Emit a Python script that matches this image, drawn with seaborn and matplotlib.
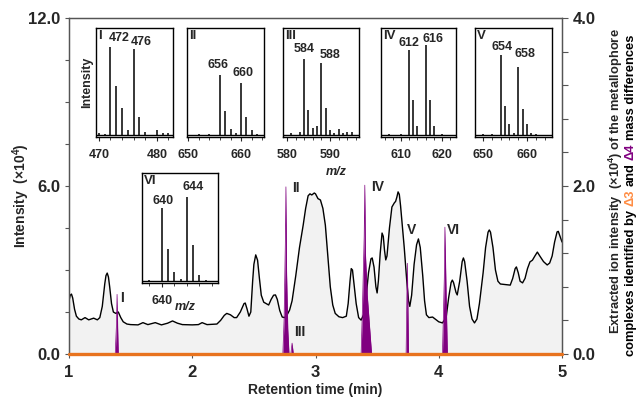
import matplotlib
matplotlib.use('Agg')
import matplotlib.pyplot as plt
import matplotlib.ticker as mticker
import seaborn as sns
import numpy as np

# ---- chromatogram (total ion intensity, x10^4) ----
rt = [1.00, 1.01, 1.02, 1.03, 1.045, 1.06, 1.08, 1.10, 1.13, 1.16, 1.20, 1.23, 1.25, 1.27,
      1.29, 1.30, 1.31, 1.32, 1.33, 1.345, 1.36, 1.38, 1.40, 1.42, 1.44, 1.47, 1.50, 1.56,
      1.60, 1.64, 1.70, 1.75, 1.80, 1.84, 1.88, 1.92, 2.00, 2.05, 2.08, 2.12, 2.20, 2.23,
      2.26, 2.28, 2.31, 2.34, 2.36, 2.39, 2.42, 2.43, 2.445, 2.46, 2.475, 2.49, 2.50, 2.515,
      2.53, 2.545, 2.56, 2.58, 2.60, 2.62, 2.64, 2.66, 2.675, 2.69, 2.71, 2.73, 2.75, 2.77,
      2.79, 2.81, 2.84, 2.87, 2.90, 2.92, 2.94, 2.955, 2.97, 2.99, 3.00, 3.02, 3.04, 3.06,
      3.08, 3.10, 3.12, 3.14, 3.16, 3.19, 3.22, 3.25, 3.265, 3.28, 3.29, 3.30, 3.31, 3.33,
      3.35, 3.37, 3.39, 3.41, 3.43, 3.45, 3.46, 3.475, 3.49, 3.50, 3.51, 3.525, 3.54, 3.55,
      3.56, 3.57, 3.58, 3.60, 3.62, 3.64, 3.65, 3.66, 3.67, 3.68, 3.69, 3.70, 3.72, 3.74,
      3.755, 3.765, 3.78, 3.80, 3.82, 3.835, 3.85, 3.87, 3.885, 3.90, 3.92, 3.95, 3.97, 4.00,
      4.03, 4.06, 4.08, 4.10, 4.11, 4.12, 4.14, 4.15, 4.17, 4.19, 4.20, 4.21, 4.23, 4.25,
      4.27, 4.29, 4.31, 4.33, 4.36, 4.38, 4.40, 4.41, 4.42, 4.44, 4.46, 4.48, 4.50, 4.54,
      4.58, 4.60, 4.62, 4.63, 4.645, 4.66, 4.68, 4.70, 4.72, 4.74, 4.76, 4.78, 4.80, 4.82,
      4.85, 4.88, 4.90, 4.92, 4.94, 4.96, 4.97, 4.98, 5.00]
tic = [1.90, 2.10, 2.14, 2.00, 1.60, 1.35, 1.25, 1.22, 1.30, 1.22, 1.28, 1.22, 1.30, 1.70,
       2.50, 2.80, 2.89, 2.75, 2.40, 1.80, 1.50, 1.45, 1.50, 1.30, 1.15, 1.07, 1.05, 1.04,
       1.12, 1.05, 1.12, 1.04, 1.10, 1.18, 1.10, 1.05, 1.04, 1.05, 1.12, 1.05, 1.07, 1.20,
       1.38, 1.45, 1.40, 1.30, 1.30, 1.50, 1.80, 1.82, 1.60, 1.35, 1.50, 2.60, 3.20, 3.54,
       3.35, 2.70, 2.10, 1.85, 1.80, 1.75, 1.95, 2.10, 2.11, 1.95, 1.55, 1.32, 1.30, 1.40,
       1.57, 1.90, 2.80, 3.80, 4.60, 5.20, 5.65, 5.72, 5.68, 5.75, 5.72, 5.55, 5.50, 5.20,
       4.60, 3.50, 2.40, 1.75, 1.45, 1.33, 1.30, 1.35, 1.80, 2.60, 3.05, 3.00, 2.60, 1.80,
       1.30, 1.21, 1.40, 2.00, 2.90, 3.40, 3.43, 3.10, 2.40, 2.18, 2.60, 3.60, 4.32, 4.20,
       3.70, 3.36, 3.50, 4.50, 5.25, 5.40, 5.45, 5.60, 5.79, 5.70, 5.30, 4.80, 3.80, 2.64,
       1.90, 1.70, 2.10, 3.20, 3.90, 4.11, 3.80, 2.80, 1.90, 1.40, 1.30, 1.32, 1.25, 1.15,
       1.11, 1.30, 2.00, 2.55, 2.64, 2.55, 2.20, 2.11, 2.60, 3.30, 3.43, 3.30, 2.60, 1.70,
       1.25, 1.11, 1.25, 1.80, 2.90, 3.80, 4.35, 4.43, 4.35, 3.80, 3.00, 2.60, 2.50, 2.48,
       2.46, 2.70, 3.05, 3.11, 2.90, 2.60, 2.54, 2.70, 3.05, 3.29, 3.35, 3.50, 3.64, 3.50,
       3.30, 3.18, 3.25, 3.50, 4.00, 4.36, 4.38, 4.25, 4.00]

# ---- extracted ion chromatograms (x10^4) ----
xic_rt = [1.00, 1.375, 1.385, 1.39, 1.395, 1.40,
          2.735, 2.745, 2.755, 2.76, 2.765, 2.775, 2.785,
          2.80, 2.81, 2.82,
          3.37, 3.38, 3.395, 3.40, 3.405, 3.42, 3.44, 3.455,
          3.735, 3.745, 3.755,
          4.03, 4.045, 4.05, 4.06, 4.07, 5.00]
xic_d4 = [0, 0, 0.35, 0.71, 0.30, 0,
          0, 0.40, 1.30, 1.99, 1.00, 0.30, 0,
          0, 0.13, 0,
          0, 0.50, 1.40, 2.01, 1.20, 0.70, 0.30, 0,
          0, 1.08, 0,
          0, 0.90, 1.51, 0.70, 0, 0]
xic_d3_rt = [1.0, 5.0]
xic_d3 = [0.0, 0.0]

roman = ['I', 'II', 'III', 'IV', 'V', 'VI']

# ---- mass spectra (relative intensity) ----
ms_I_mz = [470, 471, 472, 473, 474, 475, 476, 477, 478, 480, 481, 482]
ms_I_int = [0.04, 0.03, 0.83, 0.47, 0.27, 0.06, 0.81, 0.18, 0.05, 0.06, 0.04, 0.04]
ms_II_mz = [652, 654, 656, 657, 658, 659, 660, 661, 662, 663]
ms_II_int = [0.03, 0.03, 0.57, 0.24, 0.07, 0.04, 0.50, 0.18, 0.06, 0.03]
ms_III_mz = [581, 583, 584, 585, 586, 587, 588, 589, 590, 591, 592, 593, 594, 595]
ms_III_int = [0.04, 0.05, 0.72, 0.25, 0.08, 0.10, 0.68, 0.27, 0.06, 0.04, 0.07, 0.04, 0.05, 0.05]
ms_IV_mz = [607, 610, 612, 613, 614, 616, 617, 618, 620]
ms_IV_int = [0.03, 0.03, 0.80, 0.34, 0.10, 0.84, 0.34, 0.10, 0.03]
ms_V_mz = [650, 652, 654, 655, 656, 657, 658, 659, 660, 661, 662]
ms_V_int = [0.03, 0.03, 0.75, 0.28, 0.12, 0.04, 0.64, 0.26, 0.12, 0.04, 0.03]
ms_VI_mz = [638, 640, 641, 642, 643, 644, 645, 646, 647]
ms_VI_int = [0.03, 0.68, 0.31, 0.10, 0.04, 0.78, 0.35, 0.07, 0.03]

ms_I_peaks = [472, 476]
ms_II_peaks = [656, 660]
ms_III_peaks = [584, 588]
ms_IV_peaks = [612, 616]
ms_V_peaks = [654, 658]
ms_VI_peaks = [640, 644]

W, H = 643, 398
purple = '#800080'
orange = '#E8731E'

sns.set_style('ticks')
plt.rcParams['font.family'] = ['Liberation Sans', 'DejaVu Sans']
plt.rcParams['font.weight'] = 'bold'
plt.rcParams['mathtext.fontset'] = 'custom'
plt.rcParams['mathtext.rm'] = 'Liberation Sans:bold'
plt.rcParams['mathtext.bf'] = 'Liberation Sans:bold'
plt.rcParams['mathtext.default'] = 'bf'


def px_rect(x0, y0, x1, y1):
    return [x0 / W, 1 - y1 / H, (x1 - x0) / W, (y1 - y0) / H]


fig = plt.figure(figsize=(W / 100, H / 100), dpi=100)
ax = fig.add_axes(px_rect(69, 18, 562, 354))
ax2 = ax.twinx()

# chromatogram
ax.fill_between(rt, tic, color='#F2F2F2', lw=0)
sns.lineplot(x=rt, y=tic, ax=ax, color='black', lw=1.0, errorbar=None)
ax.set_xlim(1, 5)
ax.set_ylim(0, 12)
yt = np.arange(0, 12.01, 1.5)
ax.set_yticks(yt)
ax.set_yticklabels(['0.0' if v == 0 else '6.0' if v == 6 else '12.0' if v == 12 else '' for v in yt])
ax.set_xticks([1, 2, 3, 4, 5])
ax.tick_params(axis='both', labelsize=12, length=3, color='#555555', width=0.8)
ax.tick_params(axis='x', pad=5)
for s in ax.spines.values():
    s.set_color('#555555')
    s.set_linewidth(0.9)
ax.set_xlabel('Retention time (min)', fontsize=10, fontweight='bold')
ax.xaxis.set_label_coords(0.5, -0.085)
ax.set_ylabel('Intensity  (×10$^{4}$)', fontsize=10, fontweight='bold')
ax.yaxis.set_label_coords(-0.075, 0.47)

# extracted ion traces
ax2.fill_between(xic_rt, xic_d4, color=purple, lw=0)
sns.lineplot(x=xic_rt, y=xic_d4, ax=ax2, color=purple, lw=0.5, errorbar=None)
sns.lineplot(x=xic_d3_rt, y=xic_d3, ax=ax2, color=orange, lw=2.4, errorbar=None, clip_on=False,
             zorder=5)
ax2.set_ylim(0, 4)
yt2 = np.arange(0, 4.01, 0.4)
ax2.set_yticks(yt2)
ax2.set_yticklabels(['0.0' if abs(v) < 1e-6 else '2.0' if abs(v - 2) < 1e-6 else
                     '4.0' if abs(v - 4) < 1e-6 else '' for v in yt2])
ax2.tick_params(axis='y', labelsize=12, length=4, color='#555555', width=0.8)
for s in ax2.spines.values():
    s.set_color('#555555')
    s.set_linewidth(0.9)
ax2.set_ylabel('')

label_pos = [(1.43, 0.67), (2.84, 1.98), (2.87, 0.26), (3.50, 1.99), (3.78, 1.48), (4.12, 1.48)]
for name, (x, y) in zip(roman, label_pos):
    ax2.text(x, y, name, fontsize=10, fontweight='bold', ha='center', va='center')

# inset mass spectra
insets = [
    ('I', ms_I_mz, ms_I_int, ms_I_peaks, (96, 28, 173, 137), (469.5, 482.8), [470, 480],
     [(473.5, 0.91), (477.4, 0.87)]),
    ('II', ms_II_mz, ms_II_int, ms_II_peaks, (187, 28, 264, 137), (649.8, 664.3), [650, 660],
     [(655.6, 0.66), (660.3, 0.59)]),
    ('III', ms_III_mz, ms_III_int, ms_III_peaks, (283, 28, 359, 137), (579.1, 596.7), [580, 590],
     [(584.0, 0.81), (589.9, 0.75)]),
    ('IV', ms_IV_mz, ms_IV_int, ms_IV_peaks, (381, 28, 456, 137), (605.1, 623.4), [610, 620],
     [(612.0, 0.86), (617.8, 0.90)]),
    ('V', ms_V_mz, ms_V_int, ms_V_peaks, (475, 28, 552, 137), (648.2, 665.7), [650, 660],
     [(654.3, 0.83), (659.5, 0.76)]),
    ('VI', ms_VI_mz, ms_VI_int, ms_VI_peaks, (142, 173, 218, 283), (636.8, 649.0), [640],
     [(640.2, 0.75), (645.0, 0.87)]),
]
for name, mz, inten, peaks, rect, xlim, ticks, lab in insets:
    ia = fig.add_axes(px_rect(*rect))
    ia.set_facecolor('white')
    ia.vlines(mz, 0.015, inten, color='black', lw=1.1)
    ia.axhline(0.015, color='black', lw=1.0)
    ia.set_xlim(*xlim)
    ia.set_ylim(0, 1)
    ia.set_yticks([])
    ia.set_xticks(ticks)
    ia.xaxis.set_minor_locator(mticker.MultipleLocator(2))
    ia.tick_params(axis='x', which='major', length=3, labelsize=9, pad=6)
    ia.tick_params(axis='x', which='minor', length=2)
    for s in ia.spines.values():
        s.set_color('black')
        s.set_linewidth(1.0)
    ia.text(0.03, 0.985, name, transform=ia.transAxes, fontsize=9.5, fontweight='bold',
            ha='left', va='top')
    for pk, (lx, ly) in zip(peaks, lab):
        ia.text(lx, ly, str(pk), fontsize=9, fontweight='bold', ha='center', va='center',
                transform=ia.get_xaxis_transform())
    if name == 'I':
        ia.set_ylabel('Intensity', fontsize=9, fontweight='bold', labelpad=2)
    if name == 'VI':
        ia.text(185 / W, 1 - 307 / H, 'm/z', transform=fig.transFigure, fontsize=9,
                fontstyle='italic', fontweight='bold', ha='center', va='center')

fig.text(336 / W, 1 - 172 / H, 'm/z', fontsize=9, fontstyle='italic', fontweight='bold',
         ha='center', va='center')

# right axis title, two lines, with coloured delta labels
fs_r = 9.3
fig.text(620 / W, 1 - 181 / H, 'Extracted ion intensity  (×10$^{4}$) of the metallophore',
         rotation=90, rotation_mode='anchor', ha='center', va='baseline', fontsize=fs_r,
         fontweight='bold')

pieces = [('complexes identified by', 'black'), ('Δ3', '#FF8C42'), ('and', 'black'),
          ('Δ4', purple), ('mass differences', 'black')]
renderer = fig.canvas.get_renderer()
objs = []
for s, c in pieces:
    objs.append(fig.text(634 / W, 0, s, rotation=90, rotation_mode='anchor', ha='left',
                         va='baseline', fontsize=fs_r, fontweight='bold', color=c))
probe_a = fig.text(0, 0, 'a a', fontsize=fs_r, fontweight='bold')
probe_b = fig.text(0, 0, 'aa', fontsize=fs_r, fontweight='bold')
gap = (probe_a.get_window_extent(renderer).width - probe_b.get_window_extent(renderer).width) / H
probe_a.remove()
probe_b.remove()
lens = [o.get_window_extent(renderer).height / H for o in objs]
total = sum(lens) + gap * (len(objs) - 1)
y = (1 - 195 / H) - total / 2
for o, L in zip(objs, lens):
    o.set_y(y)
    y += L + gap

fig.savefig('out.png', dpi=100)
